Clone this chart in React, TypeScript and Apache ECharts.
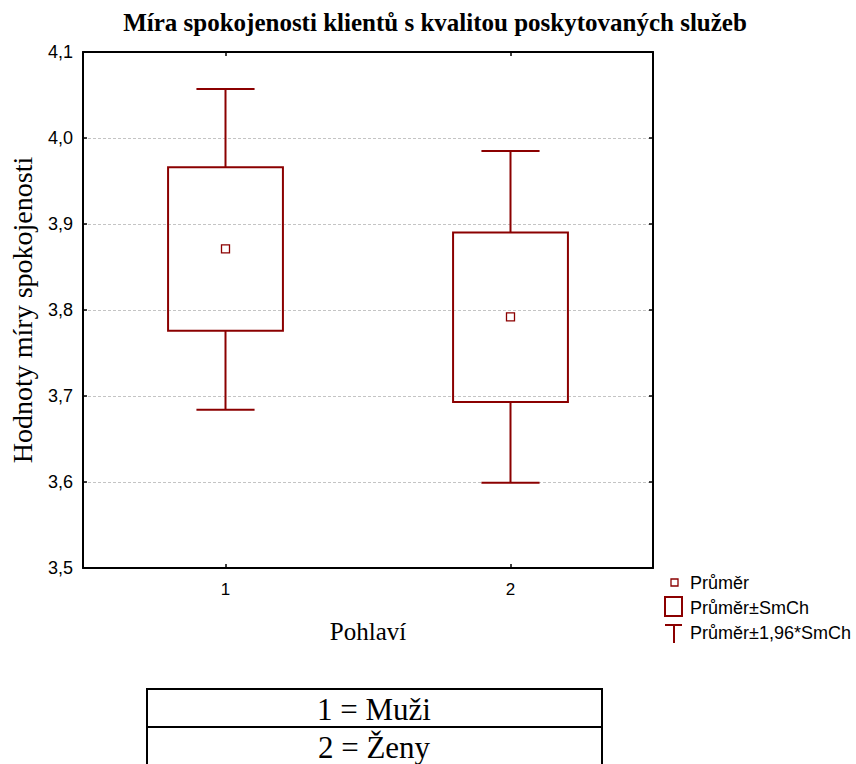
import React, { useEffect, useRef } from "react";
import * as echarts from "echarts";

// Gender groups (category codes on the x axis) and their names for the key table
const groupCodes = ["1", "2"];
const groupNames = ["Muži", "Ženy"];

// Satisfaction score summary per group
const means = [3.871, 3.792];
const seLow = [3.776, 3.693];
const seHigh = [3.966, 3.890];
const ciLow = [3.684, 3.599];
const ciHigh = [4.057, 3.985];

const yTicks = { min: 3.5, max: 4.1, step: 0.1 };

const title = "Míra spokojenosti klientů s kvalitou poskytovaných služeb";
const yTitle = "Hodnoty míry spokojenosti";
const xTitle = "Pohlaví";
const legendLabels = ["Průměr", "Průměr±SmCh", "Průměr±1,96*SmCh"];

const RED = "#8b0000";
const SERIF = "'Liberation Serif', 'Times New Roman', serif";
const SANS = "'Liberation Sans', Arial, sans-serif";

export default function App() {
  const ref = useRef<HTMLDivElement>(null);

  useEffect(() => {
    if (!ref.current) return;
    const chart = echarts.init(ref.current, undefined, { renderer: "svg" });

    const data = groupCodes.map((_, i) => [i, ciLow[i], seLow[i], means[i], seHigh[i], ciHigh[i]]);

    const renderItem = (params: any, api: any) => {
      const idx = api.value(0);
      const band = api.size([1, 0])[0];
      const [cx, yWl] = api.coord([idx, api.value(1)]);
      const yBl = api.coord([idx, api.value(2)])[1];
      const yM = api.coord([idx, api.value(3)])[1];
      const yBh = api.coord([idx, api.value(4)])[1];
      const yWh = api.coord([idx, api.value(5)])[1];
      const boxW = band * 0.403;
      const capW = band * 0.204;
      const line = { stroke: RED, lineWidth: 2 };
      return {
        type: "group",
        children: [
          { type: "line", shape: { x1: cx, y1: yBh, x2: cx, y2: yWh }, style: line },
          { type: "line", shape: { x1: cx, y1: yBl, x2: cx, y2: yWl }, style: line },
          { type: "line", shape: { x1: cx - capW / 2, y1: yWh, x2: cx + capW / 2, y2: yWh }, style: line },
          { type: "line", shape: { x1: cx - capW / 2, y1: yWl, x2: cx + capW / 2, y2: yWl }, style: line },
          {
            type: "rect",
            shape: { x: cx - boxW / 2, y: yBh, width: boxW, height: yBl - yBh },
            style: { fill: "none", stroke: RED, lineWidth: 2 },
          },
          {
            type: "rect",
            shape: { x: cx - 4, y: yM - 4, width: 8, height: 8 },
            style: { fill: "#fff", stroke: RED, lineWidth: 1.3 },
          },
        ],
      };
    };

    const fmt = (v: number) => v.toFixed(1).replace(".", ",");
    const frame = { show: true, lineStyle: { color: "#000", width: 2 } };

    const legendX = 674;
    const legendTextX = 690;
    const legendY = [583, 608, 633];

    const tableTop = 689;
    const rowH = 38;

    chart.setOption({
      animation: false,
      backgroundColor: "#fff",
      grid: { left: 83, top: 52, width: 570, height: 516, containLabel: false },
      xAxis: [
        {
          type: "category",
          data: groupCodes,
          position: "bottom",
          axisLine: frame,
          axisTick: { show: true, inside: true, alignWithLabel: true, length: 4, lineStyle: { color: "#000", width: 1.5 } },
          axisLabel: { color: "#000", fontFamily: SANS, fontSize: 17, margin: 13 },
          name: xTitle,
          nameLocation: "middle",
          nameGap: 51,
          nameTextStyle: { color: "#000", fontFamily: SERIF, fontSize: 25 },
          splitLine: { show: false },
        },
        {
          type: "category",
          data: groupCodes,
          position: "top",
          axisLine: frame,
          axisTick: { show: true, inside: true, alignWithLabel: true, length: 4, lineStyle: { color: "#000", width: 1.5 } },
          axisLabel: { show: false },
        },
      ],
      yAxis: [
        {
          type: "value",
          min: yTicks.min,
          max: yTicks.max,
          interval: yTicks.step,
          position: "left",
          axisLine: frame,
          axisTick: { show: true, inside: true, length: 4, lineStyle: { color: "#000", width: 1.5 } },
          axisLabel: { color: "#000", fontFamily: SANS, fontSize: 18, margin: 10, formatter: fmt },
          splitLine: { show: true, lineStyle: { color: "#c4c4c4", type: [3, 2], width: 1 } },
          name: yTitle,
          nameLocation: "middle",
          nameGap: 47,
          nameRotate: 90,
          nameTextStyle: { color: "#000", fontFamily: SERIF, fontSize: 28 },
        },
        {
          type: "value",
          min: yTicks.min,
          max: yTicks.max,
          interval: yTicks.step,
          position: "right",
          axisLine: frame,
          axisTick: { show: true, inside: true, length: 4, lineStyle: { color: "#000", width: 1.5 } },
          axisLabel: { show: false },
          splitLine: { show: false },
        },
      ],
      series: [
        {
          type: "custom",
          xAxisIndex: 0,
          yAxisIndex: 0,
          renderItem,
          encode: { x: 0, y: [1, 2, 3, 4, 5] },
          data,
          z: 5,
        },
      ],
      graphic: [
        {
          type: "text",
          x: 435,
          y: 22,
          style: {
            text: title,
            fill: "#000",
            font: `bold 25px ${SERIF}`,
            align: "center",
            verticalAlign: "middle",
          },
        },
        // key: mean marker
        {
          type: "rect",
          shape: { x: legendX - 3, y: legendY[0] - 4, width: 7, height: 7 },
          style: { fill: "#fff", stroke: RED, lineWidth: 1.3 },
        },
        // key: box
        {
          type: "rect",
          shape: { x: legendX - 9, y: legendY[1] - 11, width: 17, height: 19 },
          style: { fill: "none", stroke: RED, lineWidth: 2 },
        },
        // key: whisker
        {
          type: "line",
          shape: { x1: legendX - 9, y1: legendY[2] - 8, x2: legendX + 8, y2: legendY[2] - 8 },
          style: { stroke: RED, lineWidth: 2 },
        },
        {
          type: "line",
          shape: { x1: legendX, y1: legendY[2] - 8, x2: legendX, y2: legendY[2] + 10 },
          style: { stroke: RED, lineWidth: 2 },
        },
        ...legendLabels.map((t, i) => ({
          type: "text",
          x: legendTextX,
          y: legendY[i],
          style: { text: t, fill: "#000", font: `18px ${SANS}`, align: "left", verticalAlign: "middle" },
        })),
        // key table for group codes
        {
          type: "rect",
          shape: { x: 147, y: tableTop, width: 455, height: rowH * groupCodes.length + 4 },
          style: { fill: "none", stroke: "#000", lineWidth: 2 },
        },
        {
          type: "line",
          shape: { x1: 147, y1: tableTop + rowH, x2: 602, y2: tableTop + rowH },
          style: { stroke: "#000", lineWidth: 2 },
        },
        ...groupCodes.map((c, i) => ({
          type: "text",
          x: 374,
          y: tableTop + rowH * i + rowH / 2 + 1,
          style: {
            text: `${c} = ${groupNames[i]}`,
            fill: "#000",
            font: `31px ${SERIF}`,
            align: "center",
            verticalAlign: "middle",
          },
        })),
      ],
    });

    return () => chart.dispose();
  }, []);

  return (
    <div
      ref={ref}
      style={{ position: "fixed", left: 0, top: 0, width: 856, height: 764, background: "#fff" }}
    />
  );
}
